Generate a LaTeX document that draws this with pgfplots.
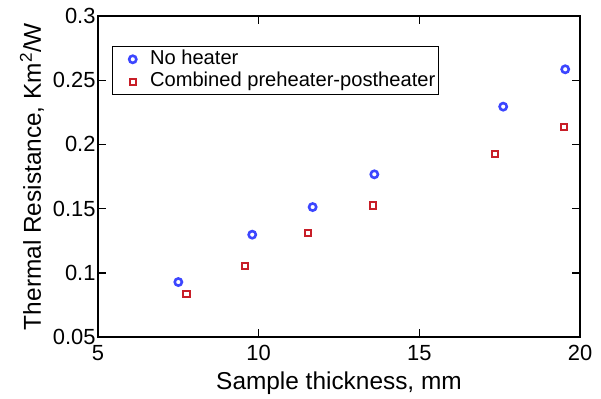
\documentclass[border=0pt]{standalone}
\usepackage{pgfplots}
\pgfplotsset{compat=1.18}
\usepackage{fontspec}
\setmainfont{Liberation Sans}
\definecolor{myblue}{RGB}{60,70,255}
\definecolor{myred}{RGB}{200,30,40}
\begin{document}
\begin{tikzpicture}[x=1bp,y=1bp]
\begin{axis}[
  scale only axis,
  width=482bp, height=321bp,
  xmin=5, xmax=20, ymin=0.05, ymax=0.3,
  xtick={5,10,15,20}, ytick={0.05,0.1,0.15,0.2,0.25,0.3},
  yticklabels={0.05,0.1,0.15,0.2,0.25,0.3},
  xticklabels={5,10,15,20},
  /pgf/number format/assume math mode=true,
  tick align=inside, major tick length=8bp,
  axis line style={line width=1.4bp},
  tick style={line width=1.4bp, black},
  ticklabel style={font=\fontsize{22}{26}\selectfont},
  xticklabel style={anchor=north, yshift=-5bp},
  yticklabel style={anchor=east, xshift=1bp},
  xlabel={Sample thickness, mm},
  ylabel={Thermal Resistance, Km\textsuperscript{2}/W},
  label style={font=\fontsize{24.5}{28}\selectfont},
  xlabel style={at={(axis description cs:0.5,-0.1651)}, anchor=base},
  ylabel style={at={(axis description cs:-0.1183,0.5)}, anchor=base},
  legend style={at={(axis cs:5.45,0.2766)}, anchor=north west, draw=black, line width=1bp,
    font=\fontsize{20.2}{22}\selectfont, inner sep=1.5bp, row sep=0bp,
    nodes={inner sep=2bp, text height=14bp, text depth=4.5bp},
    legend cell align=left},
  legend image code/.code={\path (0bp,0bp) (31bp,0bp);
    \draw[#1,mark repeat=1] plot coordinates {(17bp,0bp)};},
  clip=false,
]
\addplot[only marks, mark=o, mark size=3.6bp, color=myblue, line width=2.6bp]
 coordinates {(7.50,0.0928) (9.80,0.1297) (11.68,0.1512) (13.60,0.1767) (17.61,0.2294) (19.54,0.2585)};
\addlegendentry{No heater}
\addplot[only marks, mark=square, mark size=3.2bp, color=myred, line width=2bp]
 coordinates {(7.76,0.0837) (9.58,0.1055) (11.54,0.1312) (13.56,0.1523) (17.36,0.1925) (19.51,0.2135)};
\addlegendentry{Combined preheater-postheater}
\end{axis}
\path (-98bp,-62bp) rectangle (503bp,337bp);
\end{tikzpicture}
\end{document}
